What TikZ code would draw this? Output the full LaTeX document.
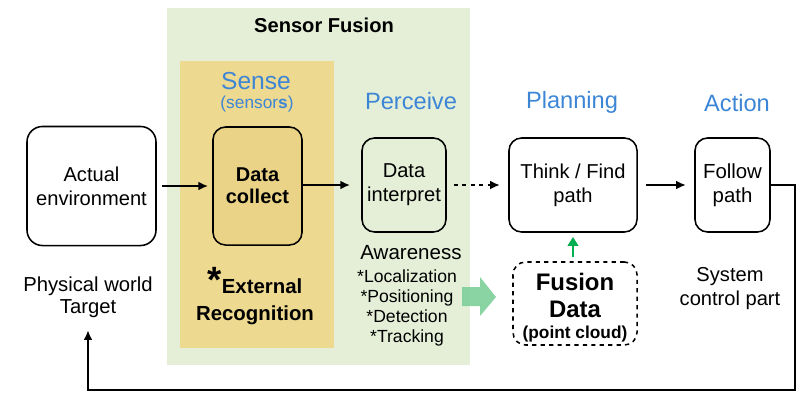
\documentclass[tikz,border=0pt]{standalone}
\usepackage{fontspec}
\setmainfont{Liberation Sans}
\usetikzlibrary{arrows.meta,positioning}
\definecolor{fusebg}{HTML}{E5EFD8}
\definecolor{sensebg}{HTML}{EDD98F}
\definecolor{collectbg}{HTML}{EAD386}
\definecolor{stage}{HTML}{3D86D6}
\definecolor{fusearr}{HTML}{7DCF9A}
\definecolor{upgreen}{HTML}{00B050}

\begin{document}
\begin{tikzpicture}[x=0.025cm, y=-0.025cm, font=\fontsize{14.3}{17}\selectfont,
  box/.style={draw=black, line width=1.1pt, rounded corners=9pt, align=center, inner sep=2pt},
  stagelbl/.style={text=stage, font=\fontsize{16.8}{19}\selectfont},
  txt/.style={align=center, inner sep=2pt},
  arr/.style={-{Latex[length=2.4mm,width=2.2mm]}, line width=1.2pt}]
  \useasboundingbox (0,0) rectangle (808,397);
  % panels
  \fill[fusebg] (167,8) rectangle (470,365);
  \fill[sensebg] (180,61) rectangle (334,348);
  \node[font=\fontsize{14.3}{17}\selectfont\bfseries] (fusion) at (324,25) {Sensor Fusion};
  % stage titles
  \node[stagelbl, font=\fontsize{17.5}{20}\selectfont] (sense) at (256,81) {Sense};
  \node[text=stage, font=\fontsize{12.3}{14}\selectfont] (sensors) at (257,104) {(sensor\textbf{s})};
  \node[stagelbl] (perceive) at (411,101) {Perceive};
  \node[stagelbl] (planning) at (572,102) {Planning};
  \node[stagelbl] (action) at (737,103) {Action};
  % main chain
  \node[box, rounded corners=11pt, minimum width=3.225cm, minimum height=2.975cm] (env) at (91.5,186) {Actual\\environment};
  \node[box, fill=collectbg, font=\fontsize{14.2}{15.5}\selectfont\bfseries, minimum width=2.225cm, minimum height=2.95cm] (collect) at (257.5,186) {Data\\collect};
  \node[box, minimum width=2.1cm, minimum height=2.35cm] (interp) at (404,185) {Data\\interpret};
  \node[box, minimum width=3.2cm, minimum height=2.35cm] (think) at (573,185) {Think / Find\\path};
  \node[box, font=\fontsize{14.5}{17}\selectfont, minimum width=1.875cm, minimum height=2.35cm] (follow) at (732.5,185) {Follow\\path};
  \draw[arr, shorten <=4pt, shorten >=3pt] (env) -- (collect);
  \draw[arr, shorten >=8pt] (collect.east |- interp) -- (interp);
  \draw[arr, dashed, shorten <=5pt, shorten >=6pt] (interp) -- (think);
  \draw[arr, shorten <=6pt, shorten >=6pt] (think) -- (follow);
  % notes under boxes
  \node[txt, font=\fontsize{14.4}{15.6}\selectfont] (phys) at (88,297) {Physical world\\Target};
  \node[txt, font=\fontsize{14.5}{19}\selectfont\bfseries] (extrec) at (255,296) {\raisebox{1pt}{\fontsize{26}{26}\selectfont *}External\\Recognition};
  \node[txt, font=\fontsize{14.6}{17}\selectfont] (aware) at (411,253) {Awareness};
  \node[txt, font=\fontsize{12.5}{14.4}\selectfont] (tasks) at (407,308) {*Localization\\*Positioning\\*Detection\\*Tracking};
  \node[txt] (sysctl) at (730,289) {System\\control part};
  % fusion data
  \node[box, dashed, inner sep=1pt, font=\fontsize{17}{19}\selectfont\bfseries, minimum width=3.1cm, minimum height=2.075cm] (fdata) at (575,303.5)
    {\rule{0pt}{18pt}Fusion\\Data\\[-4pt]\fontsize{12.3}{13}\selectfont (point cloud)};
  \fill[fusearr, opacity=0.9] (462,287) -- (480,287) -- (480,277) -- (496,297) -- (480,316) -- (480,306) -- (462,306) -- cycle;
  \draw[upgreen, line width=1.6pt, -{Triangle[length=2.2mm,width=2.6mm]}, shorten <=3pt, shorten >=3pt] (fdata.north -| think.south) -- (think.south);
  % feedback
  \draw[arr, shorten >=7pt] (follow.east) -| (795,390) -| (phys.south);
\end{tikzpicture}
\end{document}
